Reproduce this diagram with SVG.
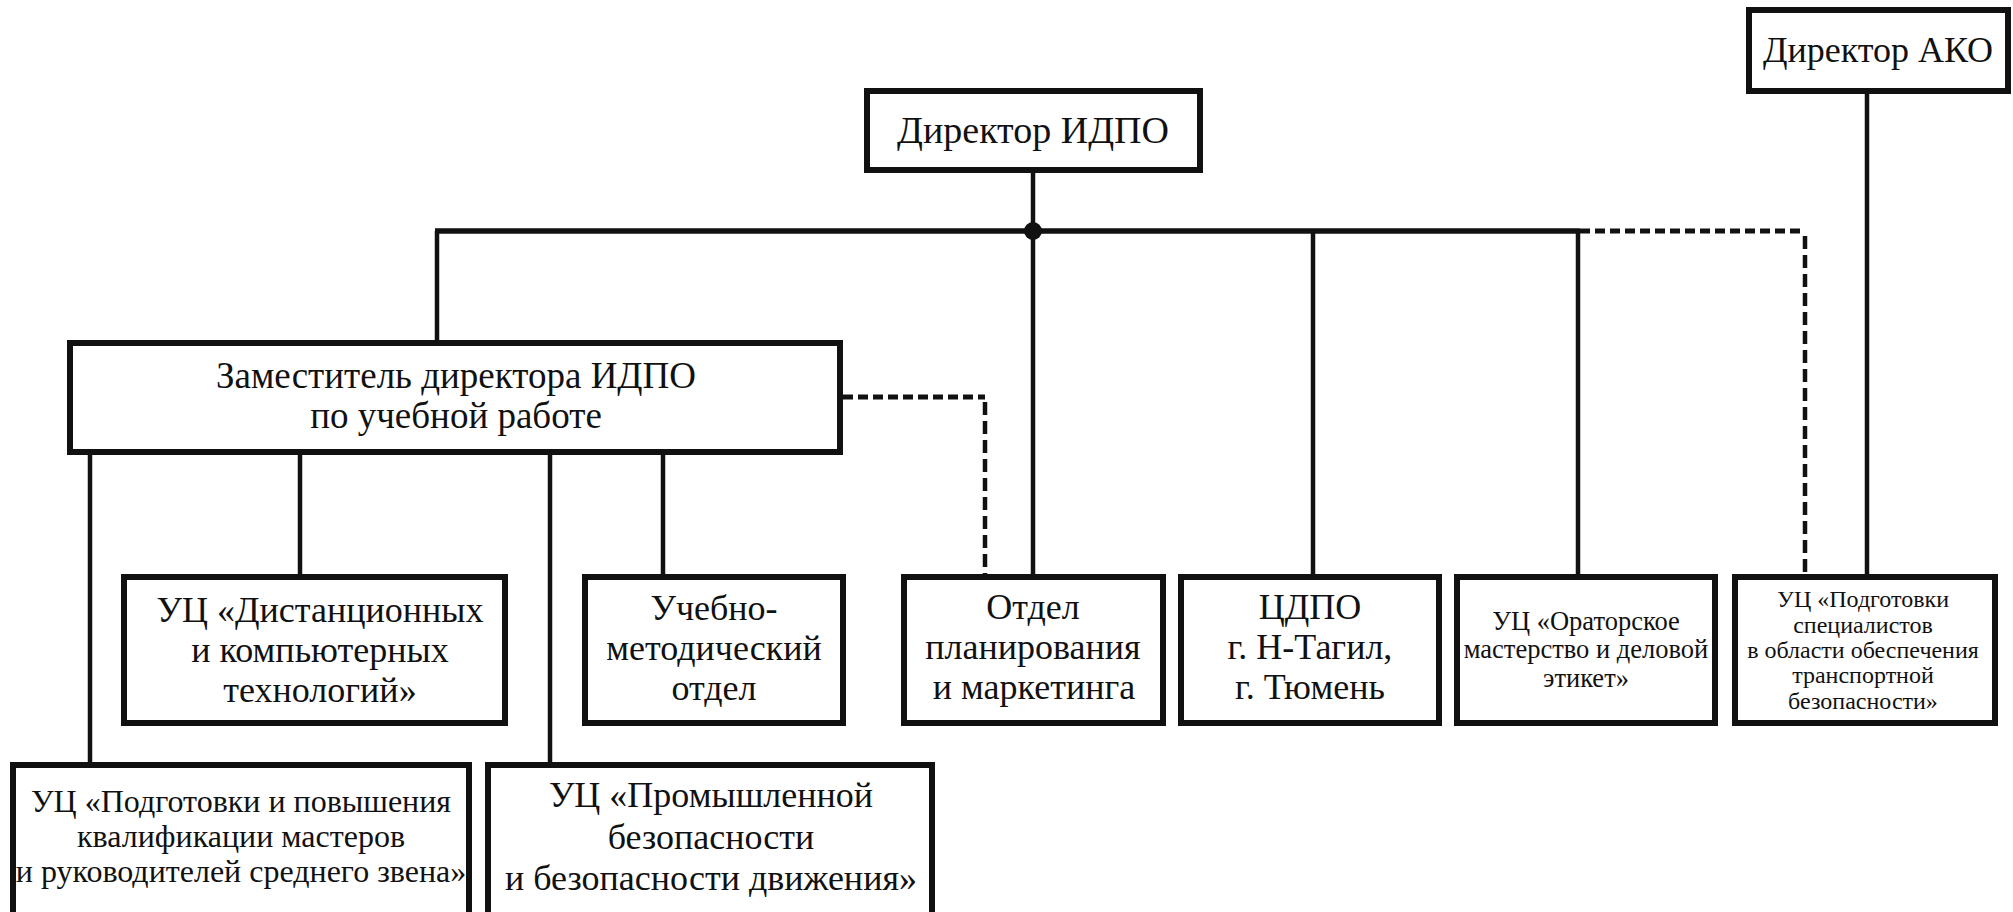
<svg xmlns="http://www.w3.org/2000/svg" width="2013" height="912" viewBox="0 0 2013 912">
<style>
.box{fill:#fff;stroke:#111;stroke-width:6}
.ln{fill:none;stroke:#111;stroke-width:4.5}
.main{fill:none;stroke:#111;stroke-width:5.5}
.dh{fill:none;stroke:#111;stroke-width:5;stroke-dasharray:10 5}
.dv{fill:none;stroke:#111;stroke-width:4.5;stroke-dasharray:13 6}
text{font-family:'Liberation Serif','DejaVu Serif',serif;fill:#111;text-anchor:middle}
.t36{font-size:36px}
.t37{font-size:37px}
.t38{font-size:38px}
.t32{font-size:32px}
.t26{font-size:26.5px}
.t24{font-size:24px}
</style>
<rect width="2013" height="912" fill="#fff"/>
<g id="connectors">
<line class="ln" x1="1033" y1="173" x2="1033" y2="574"/>
<line class="main" x1="435" y1="231" x2="1580" y2="231"/>
<line class="ln" x1="437" y1="231" x2="437" y2="340"/>
<line class="ln" x1="1313" y1="231" x2="1313" y2="574"/>
<line class="ln" x1="1578" y1="231" x2="1578" y2="574"/>
<polyline class="dh" points="1580,231 1805,231"/>
<line class="dv" x1="1805" y1="236" x2="1805" y2="574"/>
<line class="ln" x1="1867" y1="94" x2="1867" y2="574"/>
<polyline class="dh" points="843,397 985,397"/>
<line class="dv" x1="985" y1="402" x2="985" y2="574"/>
<line class="ln" x1="90" y1="455" x2="90" y2="762"/>
<line class="ln" x1="300" y1="455" x2="300" y2="574"/>
<line class="ln" x1="550" y1="455" x2="550" y2="762"/>
<line class="ln" x1="663" y1="455" x2="663" y2="574"/>
<circle cx="1033" cy="231" r="9" fill="#111"/>
</g>
<g id="dir-idpo">
<rect class="box" x="867" y="91" width="333" height="79"/>
<text class="t38" x="1033" y="143">Директор ИДПО</text>
</g>
<g id="dir-ako">
<rect class="box" x="1749" y="10" width="259" height="81"/>
<text class="t36" x="1878" y="62">Директор АКО</text>
</g>
<g id="zam">
<rect class="box" x="70" y="343" width="770" height="109"/>
<text class="t37" x="456" y="388">Заместитель директора ИДПО</text>
<text class="t37" x="456" y="428">по учебной работе</text>
</g>
<g id="uc-dist">
<rect class="box" x="124" y="577" width="381" height="146"/>
<text class="t36" x="320" y="622">УЦ «Дистанционных</text>
<text class="t36" x="320" y="662">и компьютерных</text>
<text class="t36" x="320" y="702">технологий»</text>
</g>
<g id="umo">
<rect class="box" x="585" y="577" width="258" height="146"/>
<text class="t36" x="714" y="620">Учебно-</text>
<text class="t36" x="714" y="660">методический</text>
<text class="t36" x="714" y="700">отдел</text>
</g>
<g id="otdel">
<rect class="box" x="904" y="577" width="259" height="146"/>
<text class="t36" x="1033" y="619">Отдел</text>
<text class="t36" x="1033" y="659">планирования</text>
<text class="t36" x="1034" y="699">и маркетинга</text>
</g>
<g id="cdpo">
<rect class="box" x="1181" y="577" width="258" height="146"/>
<text class="t36" x="1310" y="619">ЦДПО</text>
<text class="t36" x="1310" y="659">г. Н-Тагил,</text>
<text class="t36" x="1310" y="699">г. Тюмень</text>
</g>
<g id="orator">
<rect class="box" x="1457" y="577" width="258" height="146"/>
<text class="t26" x="1586" y="630">УЦ «Ораторское</text>
<text class="t26" x="1586" y="658">мастерство и деловой</text>
<text class="t26" x="1586" y="687">этикет»</text>
</g>
<g id="uc-transport">
<rect class="box" x="1735" y="577" width="260" height="146"/>
<text class="t24" x="1863" y="607">УЦ «Подготовки</text>
<text class="t24" x="1863" y="633">специалистов</text>
<text class="t24" x="1863" y="658">в области обеспечения</text>
<text class="t24" x="1863" y="683">транспортной</text>
<text class="t24" x="1863" y="709">безопасности»</text>
</g>
<g id="uc-masters">
<rect class="box" x="13" y="765" width="456" height="150"/>
<text class="t32" x="241" y="812">УЦ «Подготовки и повышения</text>
<text class="t32" x="241" y="847">квалификации мастеров</text>
<text class="t32" x="241" y="882">и руководителей среднего звена»</text>
</g>
<g id="uc-prom">
<rect class="box" x="488" y="765" width="444" height="150"/>
<text class="t36" x="711" y="807">УЦ «Промышленной</text>
<text class="t36" x="711" y="849">безопасности</text>
<text class="t36" x="711" y="890">и безопасности движения»</text>
</g>
</svg>
